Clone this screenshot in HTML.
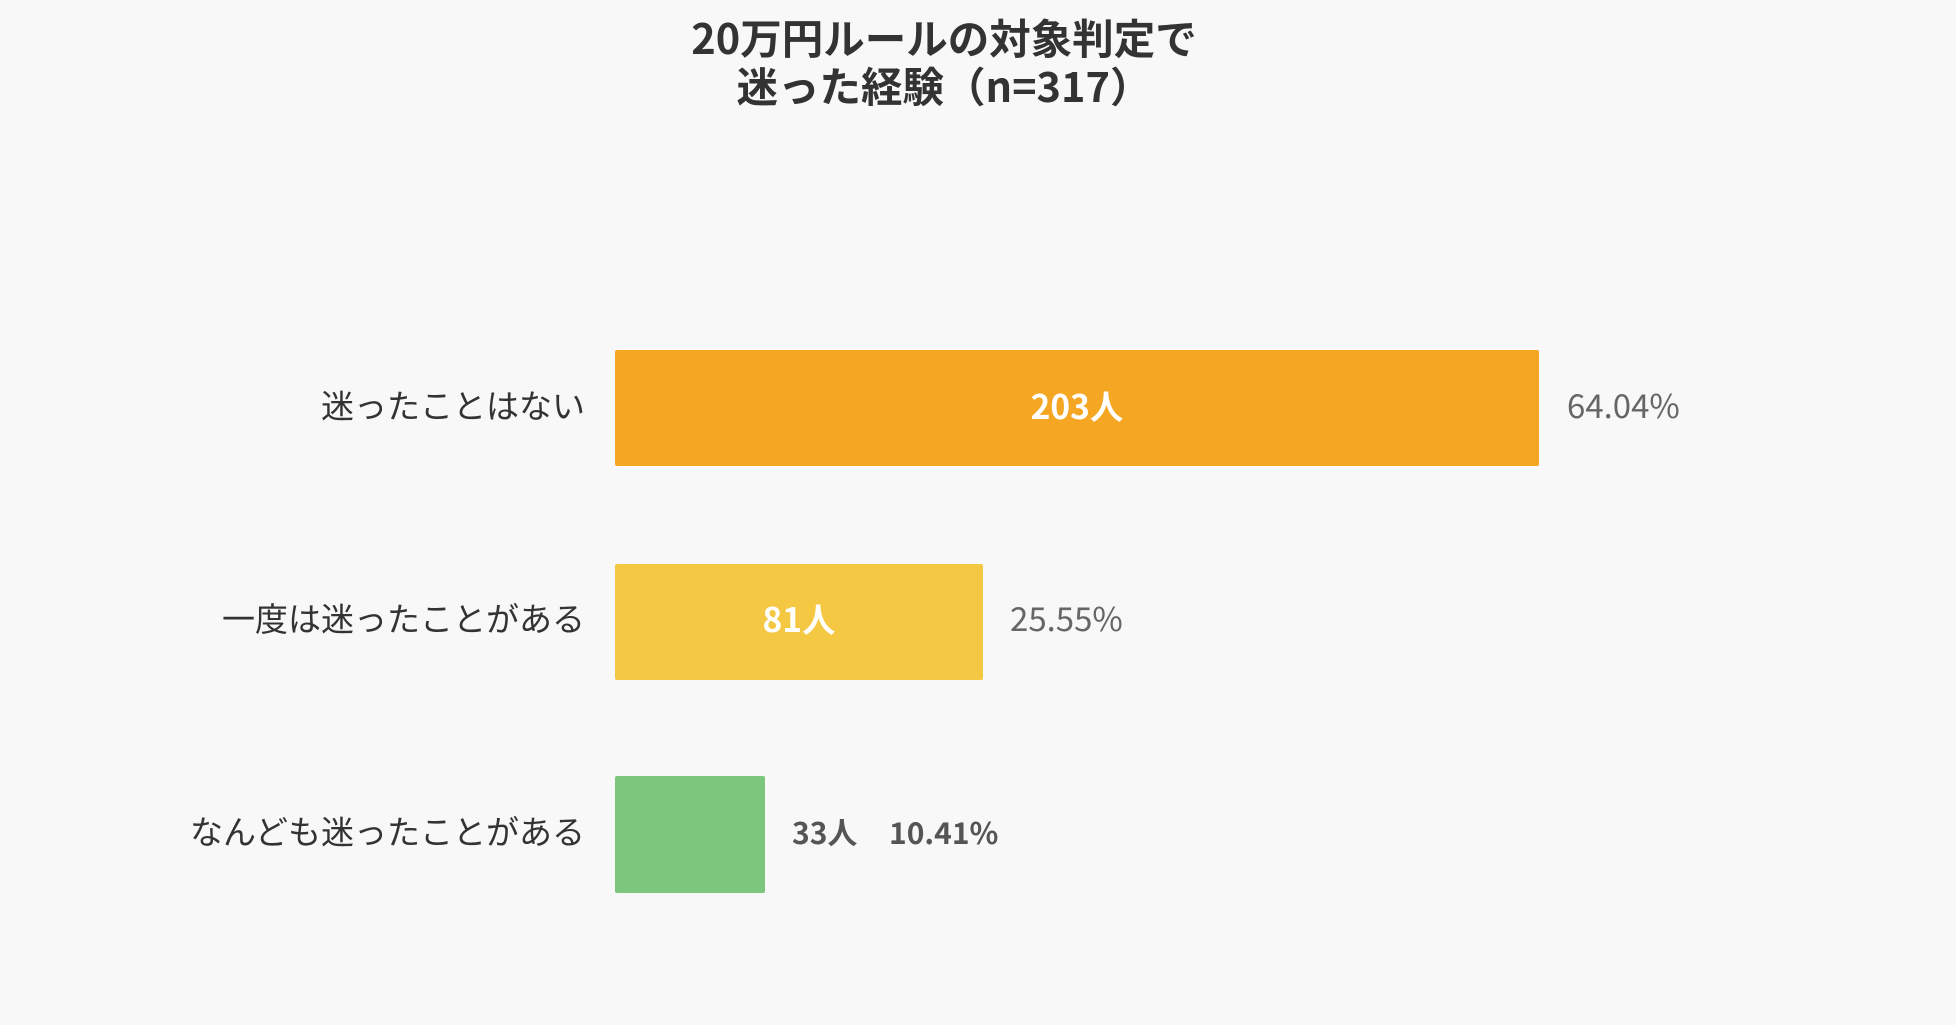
<!DOCTYPE html>
<html><head><meta charset="utf-8"><style>
body{margin:0;width:1956px;height:1025px;background:#f8f8f8;font-family:"Noto Sans CJK JP","Liberation Sans",sans-serif;position:relative;overflow:hidden}
.t{position:absolute;left:0;width:1888px;text-align:center;font-weight:bold;font-size:41.5px;color:#333;line-height:48px}
.l{position:absolute;right:1371px;font-size:33px;color:#333;transform:translateY(-50%);white-space:nowrap;line-height:1.2}
.b{position:absolute;left:615px;border-radius:2px}
.v{position:absolute;transform:translate(-50%,-50%);font-weight:bold;font-size:33.5px;color:#fff;line-height:1.2}
.p{position:absolute;transform:translateY(-50%);font-size:33px;color:#666;line-height:1.2}
</style></head><body>
<div class="t" style="top:12px">20万円ルールの対象判定で</div>
<div class="t" style="top:60px">迷った経験（n=317）</div>
<div class="l" style="top:405px">迷ったことはない</div>
<div class="l" style="top:618px">一度は迷ったことがある</div>
<div class="l" style="top:831px">なんども迷ったことがある</div>
<div class="b" style="top:350px;width:924px;height:116px;background:#f5a623"></div>
<div class="b" style="top:564px;width:368px;height:116px;background:#f4c842"></div>
<div class="b" style="top:776px;width:150px;height:117px;background:#7dc67e"></div>
<div class="v" style="left:1077px;top:405px">203人</div>
<div class="v" style="left:799px;top:618px">81人</div>
<div class="p" style="left:1567px;top:405px">64.04%</div>
<div class="p" style="left:1010px;top:618px">25.55%</div>
<div class="p" style="left:792px;top:831px;font-size:30px;font-weight:bold;color:#555">33人</div>
<div class="p" style="left:889px;top:831px;font-size:30px;font-weight:bold;color:#555">10.41%</div>
</body></html>
